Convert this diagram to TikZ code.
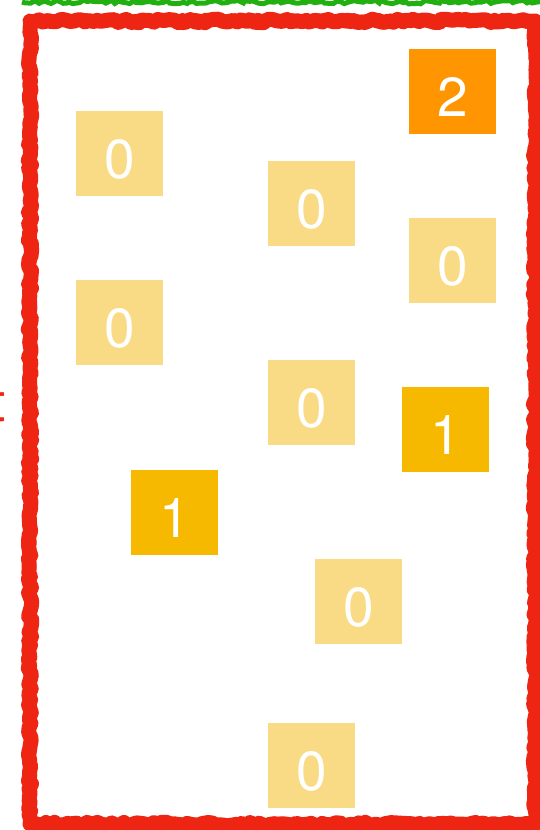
\documentclass[tikz,border=0pt]{standalone}
\usepackage{fontspec}
\setmainfont{TeX Gyre Heros}
\usetikzlibrary{decorations.pathmorphing}
\definecolor{redb}{HTML}{EE2512}
\definecolor{greenb}{HTML}{22B010}
\definecolor{lightg}{HTML}{FADB85}
\definecolor{midg}{HTML}{F7B900}
\definecolor{darkg}{HTML}{FF9500}
\tikzset{
  cell/.style={minimum width=87pt, minimum height=85pt, inner sep=0pt, text=white,
    font=\fontsize{55}{55}\selectfont, text depth=0pt, text height=0pt},
  c0/.style={cell, fill=lightg},
  c1/.style={cell, fill=midg},
  c2/.style={cell, fill=darkg},
  rough/.style={decorate, decoration={random steps, segment length=4pt, amplitude=1.8pt}}
}
\newcommand{\dig}[1]{\raisebox{-25pt}{#1}}
\begin{document}
\begin{tikzpicture}[x=1pt,y=-1pt]
\useasboundingbox (0,0) rectangle (540,830);
\fill[white] (0,0) rectangle (540,830);
% green line at top
\draw[greenb, line width=5pt, rough] (22,2) -- (542,2);
% red border
\draw[redb, line width=15pt, rough, line join=round] (30,21) -- (535,21) -- (535,824) -- (30,824) -- cycle;
\draw[redb, line width=11pt, rough, line join=round] (30,20) -- (536,20) -- (536,825) -- (30,825) -- cycle;
% cut-off red label
\node[text=redb, font=\fontsize{55}{55}\selectfont, anchor=east, inner sep=0pt] (lbl) at (6,403) {t};
% cells
\node[c2] (a) at (452.5,91) {\dig{2}};
\node[c0] (b) at (119.5,153) {\dig{0}};
\node[c0] (c) at (311.5,203) {\dig{0}};
\node[c0] (d) at (452.5,260) {\dig{0}};
\node[c0] (e) at (119.5,322) {\dig{0}};
\node[c0] (f) at (311.5,402) {\dig{0}};
\node[c1] (g) at (445.5,429) {\dig{1}};
\node[c1] (h) at (174.5,512) {\dig{1}};
\node[c0] (i) at (358.5,601) {\dig{0}};
\node[c0] (j) at (311.5,765) {\dig{0}};
\end{tikzpicture}
\end{document}
